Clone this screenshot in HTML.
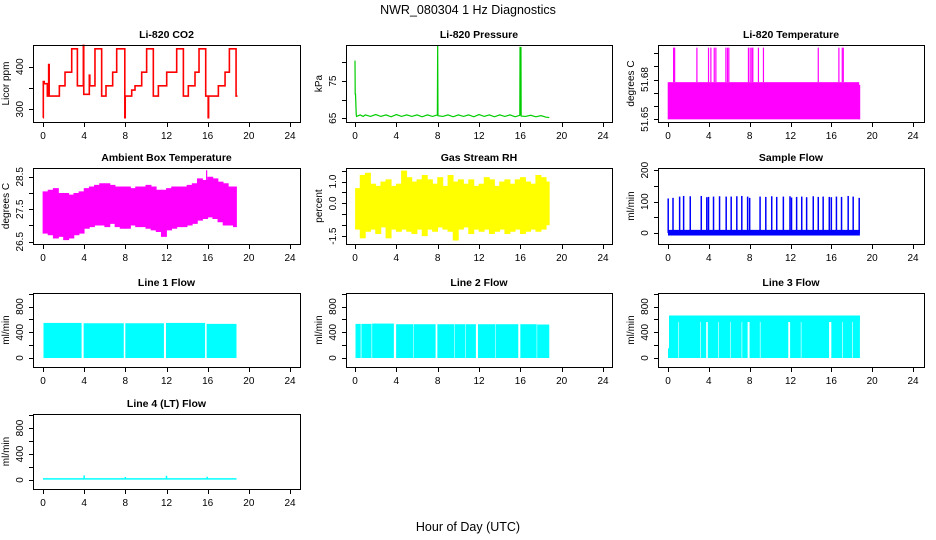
<!DOCTYPE html>
<html><head><meta charset="utf-8"><style>
html,body{margin:0;padding:0;background:#fff}
svg{display:block;font-family:"Liberation Sans",Arial,sans-serif}
</style></head><body>
<svg id="c" width="936" height="540" viewBox="0 0 936 540">
<text x="468" y="14" font-size="12.5" text-anchor="middle">NWR_080304  1 Hz Diagnostics</text>
<text x="468" y="531" font-size="12.5" text-anchor="middle">Hour of Day (UTC)</text>
</svg>
<script>
// ---------- data ----------
const xTicks = [0,4,8,12,16,20,24];
// CO2 step series
const co2T = [0,0.03,0.12,0.42,0.55,0.6,1.07,1.59,2.14,2.79,3.34,3.92,3.96,4.50,4.55,5.05,5.70,6.12,6.77,7.16,7.95,7.99,8.62,8.94,9.59,10.07,10.72,11.21,12.02,12.99,13.64,14.12,14.77,15.16,15.81,16.05,16.09,17.04,17.69,18.11,18.76,18.9];
const co2V = [280,365,360,331,405,331,331,355,387,442,355,450,335,380,355,442,331,355,387,442,280,331,345,355,387,442,331,355,387,442,331,355,387,442,331,280,331,355,387,442,331,331];
// Pressure
const presT = [0,0.02,0.05,0.12,0.15,0.5,0.8,1.0,1.5,2.0,2.5,3.0,3.5,4.0,4.5,5.0,5.5,6.0,6.5,7.0,7.5,7.97,8.0,8.03,8.5,9.0,9.5,10.0,10.5,11.0,11.5,12.0,12.5,13.0,13.5,14.0,14.5,15.0,15.5,15.95,15.97,15.99,16.01,16.03,16.06,16.08,16.5,17.0,17.5,18.0,18.5,18.8];
const presV = [80.5,71.5,71.5,66.0,65.5,65.9,65.5,65.9,65.5,66.0,65.5,65.9,65.4,66.0,65.5,65.9,65.5,65.9,65.4,65.9,65.5,65.9,84.5,65.7,65.5,65.9,65.4,65.9,65.5,65.9,65.4,66.0,65.5,65.9,65.4,65.9,65.5,65.9,65.4,65.8,84.2,65.8,84.2,65.8,84.2,65.6,65.5,65.8,65.4,65.7,65.3,65.2];
// Li-820 temperature: band + spikes
const tempBandStart = [0,18.7];
const tempBandEnd = [18.7,18.8];
const tempBandMin = [51.65,51.65];
const tempBandMax = [51.678,51.676];
const tempSpikeT = [0.55,0.65,2.83,3.97,4.2,4.53,4.69,5.67,5.83,5.96,7.88,8.05,8.21,8.31,8.86,9.35,14.72,16.74,17.07,17.17];
const tempSpikeV = [51.704,51.704,51.704,51.704,51.704,51.704,51.704,51.704,51.704,51.704,51.704,51.704,51.704,51.704,51.704,51.704,51.704,51.704,51.704,51.704];
// Ambient temperature (0.5 h bins)
const ambStart = [0,0.5,1,1.5,2,2.5,3,3.5,4,4.5,5,5.5,6,6.5,7,7.5,8,8.5,9,9.5,10,10.5,11,11.5,12,12.5,13,13.5,14,14.5,15,15.5,16,16.5,17,17.5,18,18.5];
const ambMax = [28.05,28.1,28.15,28.0,28.0,27.95,28.0,28.05,28.15,28.2,28.25,28.3,28.3,28.25,28.2,28.2,28.2,28.15,28.2,28.2,28.25,28.2,28.1,28.1,28.15,28.2,28.2,28.2,28.25,28.3,28.45,28.4,28.5,28.45,28.35,28.3,28.2,28.2];
const ambMin = [26.75,26.7,26.6,26.65,26.55,26.6,26.7,26.75,26.9,26.95,27.0,27.0,26.95,27.05,26.95,26.9,26.9,27.0,26.95,26.95,26.9,26.85,26.8,26.65,26.85,26.9,26.95,26.95,27.0,27.05,27.15,27.2,27.25,27.2,27.1,27.0,27.0,26.95];
// Gas stream RH (0.5 h bins)
const rhMax = [0.7,1.3,1.4,0.9,0.8,1.0,1.1,0.8,0.9,1.5,1.2,1.0,1.1,1.3,1.1,0.9,1.2,0.8,1.3,1.0,1.1,0.9,1.1,0.8,0.9,1.2,1.1,0.8,1.0,1.1,0.9,1.1,1.2,1.0,0.9,1.3,1.2,1.0];
const rhMin = [-1.2,-1.6,-1.3,-1.2,-1.4,-1.1,-1.6,-1.2,-1.3,-1.2,-1.3,-1.4,-1.2,-1.5,-1.2,-1.3,-1.1,-1.2,-1.3,-1.7,-1.2,-1.1,-1.4,-1.2,-1.3,-1.2,-1.4,-1.3,-1.2,-1.4,-1.3,-1.2,-1.4,-1.3,-1.2,-1.3,-1.2,-1.0];
// Sample flow
const sfBaseMin = [-8];
const sfBaseMax = [10];
const sfSpikeT = [0.02,0.49,1.14,1.53,2.18,3.26,3.8,3.97,4.46,5.05,5.7,6.19,6.74,7.23,7.8,8.0,9.02,9.58,10.16,10.65,11.3,11.95,12.1,12.6,13.1,13.58,14.23,14.72,15.2,15.8,16.0,16.5,17.0,17.65,18.14,18.73];
const sfSpikeV = [110,112,116,118,117,118,114,115,116,117,116,116,117,118,116,112,116,115,117,115,116,117,113,115,116,114,117,115,116,115,114,116,115,118,116,112];
// Line flows: segments
const l1Start = [0.05,3.95,8.0,11.95,15.9];
const l1End = [3.75,7.85,11.75,15.75,18.8];
const l1Top = [545,540,540,545,530];
const l2Start = [0.05,0.62,1.66,3.98,5.7,7.97,9.63,10.73,11.9,13.63,16.0,17.63];
const l2End = [0.55,1.6,3.76,5.65,7.8,9.58,10.68,11.7,13.58,15.8,17.58,18.8];
const l2Top = [530,530,535,525,525,525,525,525,525,525,525,520];
const l3Start = [0.1,1.08,3.2,3.9,4.99,6.13,7.27,7.99,9.06,11.96,13.07,16.0,17.11,18.12];
const l3End = [1.02,3.14,3.74,4.93,6.07,7.21,7.8,9.0,11.78,13.01,15.78,17.05,18.06,18.8];
const l3Top = [660,660,660,660,660,660,660,660,660,660,660,660,660,660];
const l4Base = [15];
const l4SpikeT = [4.0,8.0,12.0,15.95];
const l4SpikeV = [70,45,65,50];

// ---------- layout ----------
const NS = "http://www.w3.org/2000/svg";
const svg = document.getElementById('c');
const cols = [{b0:33,b1:300,x0:43,x24:290},{b0:346,b1:612,x0:355,x24:603},{b0:658,b1:924,x0:668,x24:913}];
const rows = [{t:45,b:122},{t:168,b:244},{t:293,b:367},{t:414,b:489}];
function mk(tag, attrs, parent){const e=document.createElementNS(NS,tag);for(const k in attrs)e.setAttribute(k,attrs[k]);(parent||svg).appendChild(e);return e;}

function panel(name, r, c, title, ytitle, ymin, ymax, yticks, ylabels){
  const col=cols[c], row=rows[r];
  const g=mk('g',{});
  
  
  const X=h=>col.x0+(col.x24-col.x0)*h/24;
  const Y=v=>row.b-(v-ymin)/(ymax-ymin)*(row.b-row.t);
  const p={g,X,Y,row,col};
  const plot=mk('g',{},g);
  
  
  p.plot=plot;
  const box=mk('rect',{x:col.b0+0.5,y:row.t+0.5,width:col.b1-col.b0,height:row.b-row.t,fill:'none',stroke:'#000','stroke-width':1},g);
  
  
  const tt=mk('text',{x:(col.b0+col.b1)/2,y:row.t-7,'font-size':10.5,'font-weight':'bold','text-anchor':'middle'},g);
  tt.textContent=title;
  
  
  const xa=mk('g',{},g);
  
  
  mk('line',{x1:X(0),x2:X(24),y1:row.b+0.5,y2:row.b+0.5,stroke:'#000'},xa);
  xTicks.forEach(t=>{
    mk('line',{x1:Math.round(X(t))+0.5,x2:Math.round(X(t))+0.5,y1:row.b,y2:row.b+5,stroke:'#000'},xa);
    const l=mk('text',{x:X(t),y:row.b+17,'font-size':10,'text-anchor':'middle'},xa);
    l.textContent=t;
    
    
  });
  const ya=mk('g',{},g);
  
  
  const yy=yticks.map(Y);
  mk('line',{x1:col.b0+0.5,x2:col.b0+0.5,y1:Math.min(...yy),y2:Math.max(...yy),stroke:'#000'},ya);
  yticks.forEach((t,i)=>{
    const y=Math.round(Y(t))+0.5;
    mk('line',{x1:col.b0-4,x2:col.b0,y1:y,y2:y,stroke:'#000'},ya);
    if(ylabels[i]!==''){
      const lx=col.b0-10;
      const l=mk('text',{x:lx,y:Y(t),'font-size':10,'text-anchor':'middle',transform:`rotate(-90 ${lx} ${Y(t)})`},ya);
      l.textContent=ylabels[i];
      
      
    }
  });
  const yt=mk('text',{x:col.b0-24,y:(row.t+row.b)/2,'font-size':10,'text-anchor':'middle',transform:`rotate(-90 ${col.b0-24} ${(row.t+row.b)/2})`},ya);
  yt.textContent=ytitle;
  
  
  return p;
}
function stepLine(p, T, V, color, name){
  let pts=[];
  for(let i=0;i<T.length;i++){
    pts.push(p.X(T[i])+','+p.Y(V[i]));
    if(i<T.length-1) pts.push(p.X(T[i+1])+','+p.Y(V[i]));
  }
  const e=mk('polyline',{points:pts.join(' '),fill:'none',stroke:color,'stroke-width':1.6},p.plot);
  
  
}
function line(p, T, V, color, name, w){
  const pts=T.map((t,i)=>p.X(t)+','+p.Y(V[i])).join(' ');
  const e=mk('polyline',{points:pts,fill:'none',stroke:color,'stroke-width':w||1.2},p.plot);
  
  
}
function bands(p, S, E, MN, MX, color, name, pad){
  pad=pad||0;
  for(let i=0;i<S.length;i++){
    const x0=p.X(S[i]), x1=p.X(E[i]);
    const y0=p.Y(MX[i]), y1=p.Y(MN[i]);
    const e=mk('rect',{x:x0-pad,y:y0,width:Math.max(1,x1-x0+2*pad),height:Math.max(1,y1-y0),fill:color},p.plot);
    
    
  }
}
function spikes(p, T, base, V, color, name, w){
  for(let i=0;i<T.length;i++){
    const x=p.X(T[i]);
    const e=mk('line',{x1:x,x2:x,y1:p.Y(base),y2:p.Y(V[i]),stroke:color,'stroke-width':w||1.2},p.plot);
    
    
  }
}

// ---------- panels ----------
let p;
p=panel('co2',0,0,'Li-820 CO2','Licor ppm',270,451,[300,350,400],['300','','400']);
stepLine(p,co2T,co2V,'#ff0000','co2-line');

p=panel('pressure',0,1,'Li-820 Pressure','kPa',64,84.7,[65,70,75,80],['65','','75','']);
line(p,presT,presV,'#00cc00','pressure-line',1.2);

p=panel('li820-temp',0,2,'Li-820 Temperature','degrees C',51.648,51.706,[51.65,51.66,51.67,51.68,51.69,51.70],['51.65','','','51.68','','']);
bands(p,tempBandStart,tempBandEnd,tempBandMin,tempBandMax,'#ff00ff','li820-temp-band',0.3);
spikes(p,tempSpikeT,51.678,tempSpikeV,'#ff00ff','li820-temp-spike',1.2);

p=panel('ambient-temp',1,0,'Ambient Box Temperature','degrees C',26.43,28.77,[26.5,27,27.5,28,28.5],['26.5','','27.5','','28.5']);
bands(p,ambStart,ambStart.map((s,i)=>i<ambStart.length-1?ambStart[i+1]:18.8),ambMin,ambMax,'#ff00ff','ambient-temp-band',0.4);
spikes(p,[15.9],28.4,[28.7],'#ff00ff','ambient-temp-spike',1.2);

p=panel('rh',1,1,'Gas Stream RH','percent',-1.86,1.62,[-1.5,-1,-0.5,0,0.5,1,1.5],['-1.5','','','0.0','','1.0','']);
bands(p,ambStart.map(s=>Math.max(s,0.05)),ambStart.map((s,i)=>i<ambStart.length-1?ambStart[i+1]:18.8),rhMin,rhMax,'#ffff00','rh-band',0.4);

p=panel('sample-flow',1,2,'Sample Flow','ml/min',-35,207,[0,50,100,150,200],['0','','100','','200']);
bands(p,[0],[18.8],sfBaseMin,sfBaseMax,'#0000ff','sample-flow-base');
spikes(p,sfSpikeT,0,sfSpikeV,'#0000ff','sample-flow-spike',1.5);

p=panel('line1-flow',2,0,'Line 1 Flow','ml/min',-140,1010,[0,200,400,600,800,1000],['0','','400','','800','']);
bands(p,l1Start,l1End,l1Start.map(()=>0),l1Top,'#00ffff','line1-flow-band');

p=panel('line2-flow',2,1,'Line 2 Flow','ml/min',-140,1010,[0,200,400,600,800,1000],['0','','400','','800','']);
bands(p,l2Start,l2End,l2Start.map(()=>0),l2Top,'#00ffff','line2-flow-band');

p=panel('line3-flow',2,2,'Line 3 Flow','ml/min',-140,1010,[0,200,400,600,800,1000],['0','','400','','800','']);
bands(p,[0.1],[18.8],[560],[660],'#00ffff','line3-flow-top');
bands(p,l3Start,l3End,l3Start.map(()=>0),l3Top,'#00ffff','line3-flow-band');
bands(p,[0],[0.1],[0],[150],'#00ffff','line3-flow-start');

p=panel('line4-flow',3,0,'Line 4 (LT) Flow','ml/min',-139,1016,[0,200,400,600,800,1000],['0','','400','','800','']);
bands(p,[0],[18.8],[5],[28],'#00ffff','line4-flow-band');
spikes(p,l4SpikeT,l4Base[0],l4SpikeV,'#00ffff','line4-flow-spike',1.5);
</script>
</body></html>
